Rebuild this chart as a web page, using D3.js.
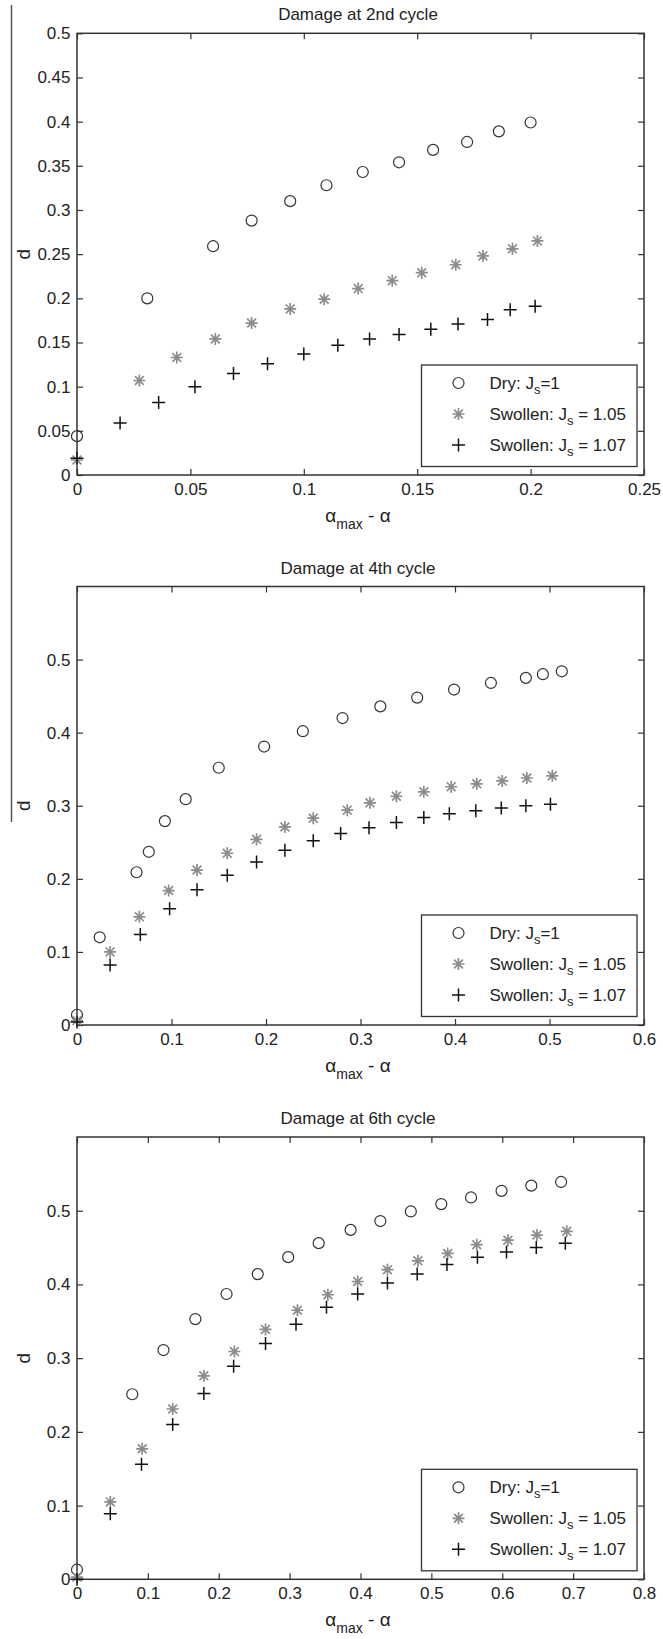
<!DOCTYPE html>
<html>
<head>
<meta charset="UTF-8">
<script src="https://d3js.org/d3.v7.min.js"></script>
<style>
  body { margin: 0; background: #fff; }
  svg { display: block; font-family: "Liberation Sans", Arial, sans-serif; }
  .tick text { font-size: 17px; fill: #222; }
</style>
</head>
<body>
<svg id="chart" width="663" height="1639"></svg>
<script>
// ---- data: [alpha_max - alpha, d] ----
const cycle2Dry = [[0,0.044],[0.031,0.200],[0.060,0.259],[0.077,0.288],[0.094,0.310],[0.110,0.328],[0.126,0.343],[0.142,0.354],[0.157,0.368],[0.172,0.377],[0.186,0.389],[0.200,0.399]];
const cycle2Sw105 = [[0,0.017],[0.0275,0.107],[0.044,0.133],[0.061,0.154],[0.077,0.172],[0.094,0.188],[0.109,0.199],[0.124,0.211],[0.139,0.220],[0.152,0.229],[0.167,0.238],[0.179,0.248],[0.192,0.256],[0.203,0.265]];
const cycle2Sw107 = [[0,0.019],[0.019,0.059],[0.036,0.082],[0.052,0.100],[0.069,0.115],[0.084,0.126],[0.100,0.137],[0.115,0.147],[0.129,0.154],[0.142,0.159],[0.156,0.165],[0.168,0.171],[0.181,0.176],[0.191,0.187],[0.202,0.191]];

const cycle4Dry = [[0,0.014],[0.024,0.120],[0.063,0.209],[0.076,0.237],[0.093,0.279],[0.115,0.309],[0.150,0.352],[0.198,0.381],[0.239,0.402],[0.281,0.420],[0.321,0.436],[0.360,0.448],[0.399,0.459],[0.438,0.468],[0.475,0.475],[0.493,0.480],[0.513,0.484]];
const cycle4Sw105 = [[0,0.006],[0.035,0.100],[0.066,0.148],[0.097,0.184],[0.127,0.212],[0.159,0.235],[0.190,0.254],[0.220,0.271],[0.250,0.283],[0.286,0.294],[0.310,0.304],[0.338,0.313],[0.367,0.319],[0.396,0.326],[0.423,0.330],[0.450,0.334],[0.476,0.338],[0.503,0.341]];
const cycle4Sw107 = [[0,0.004],[0.035,0.082],[0.067,0.124],[0.098,0.159],[0.127,0.185],[0.159,0.205],[0.190,0.223],[0.220,0.239],[0.250,0.252],[0.279,0.262],[0.309,0.270],[0.338,0.277],[0.367,0.284],[0.394,0.289],[0.422,0.293],[0.449,0.297],[0.475,0.300],[0.501,0.302]];

const cycle6Dry = [[0,0.013],[0.078,0.251],[0.122,0.311],[0.167,0.353],[0.211,0.387],[0.255,0.414],[0.298,0.437],[0.341,0.456],[0.386,0.474],[0.428,0.486],[0.471,0.499],[0.514,0.509],[0.556,0.518],[0.599,0.527],[0.641,0.534],[0.683,0.539]];
const cycle6Sw105 = [[0,0.003],[0.047,0.105],[0.092,0.177],[0.135,0.231],[0.179,0.276],[0.222,0.309],[0.266,0.339],[0.311,0.365],[0.354,0.386],[0.396,0.404],[0.438,0.420],[0.481,0.432],[0.523,0.442],[0.564,0.454],[0.608,0.460],[0.649,0.467],[0.691,0.472]];
const cycle6Sw107 = [[0,0],[0.047,0.089],[0.091,0.156],[0.135,0.210],[0.179,0.252],[0.221,0.289],[0.266,0.320],[0.309,0.346],[0.352,0.369],[0.396,0.387],[0.438,0.402],[0.480,0.414],[0.522,0.427],[0.565,0.437],[0.606,0.444],[0.648,0.450],[0.689,0.456]];

const titles = ["Damage at 2nd cycle", "Damage at 4th cycle", "Damage at 6th cycle"];
const xTicks2 = [0, 0.05, 0.1, 0.15, 0.2, 0.25];
const yTicks2 = [0, 0.05, 0.1, 0.15, 0.2, 0.25, 0.3, 0.35, 0.4, 0.45, 0.5];
const xTicks4 = [0, 0.1, 0.2, 0.3, 0.4, 0.5, 0.6];
const xTicks6 = [0, 0.1, 0.2, 0.3, 0.4, 0.5, 0.6, 0.7, 0.8];
const yTicks46 = [0, 0.1, 0.2, 0.3, 0.4, 0.5];
const legendLabels = [["Dry: J", "s", "=1"], ["Swollen: J", "s", " = 1.05"], ["Swollen: J", "s", " = 1.07"]];

const svg = d3.select("#chart");
const left = 77, right = 644;
const ink = "#333";

// stray vertical rule at the left edge of the scan
svg.append("line").attr("x1", 11.5).attr("x2", 11.5).attr("y1", 5).attr("y2", 822)
  .attr("stroke", "#555").attr("stroke-width", 1.5);

const panels = [
  { title: titles[0], top: 33.3, bottom: 475, xMax: 0.25, yMax: 0.5, xTicks: xTicks2, yTicks: yTicks2,
    series: [cycle2Dry, cycle2Sw105, cycle2Sw107] },
  { title: titles[1], top: 586.5, bottom: 1025, xMax: 0.6, yMax: 0.6, xTicks: xTicks4, yTicks: yTicks46,
    series: [cycle4Dry, cycle4Sw105, cycle4Sw107] },
  { title: titles[2], top: 1137, bottom: 1579.3, xMax: 0.8, yMax: 0.6, xTicks: xTicks6, yTicks: yTicks46,
    series: [cycle6Dry, cycle6Sw105, cycle6Sw107] }
];

function marker(g, kind, cx, cy) {
  if (kind === 0) {
    g.append("circle").attr("cx", cx).attr("cy", cy).attr("r", 5.5)
      .attr("fill", "none").attr("stroke", ink).attr("stroke-width", 1.2);
  } else if (kind === 1) {
    const s = 6, d = 4.4;
    g.append("path")
      .attr("d", `M${cx - s},${cy}H${cx + s}M${cx},${cy - s}V${cy + s}M${cx - d},${cy - d}L${cx + d},${cy + d}M${cx - d},${cy + d}L${cx + d},${cy - d}`)
      .attr("stroke", "#8c8c8c").attr("stroke-width", 1.7).attr("fill", "none");
  } else {
    const s = 6.5;
    g.append("path")
      .attr("d", `M${cx - s},${cy}H${cx + s}M${cx},${cy - s}V${cy + s}`)
      .attr("stroke", "#111").attr("stroke-width", 1.5).attr("fill", "none");
  }
}

const fmt = v => String(+v.toFixed(2));

panels.forEach(p => {
  const x = d3.scaleLinear().domain([0, p.xMax]).range([left, right]);
  const y = d3.scaleLinear().domain([0, p.yMax]).range([p.bottom, p.top]);
  const g = svg.append("g");

  // axes with inward ticks on all four sides
  const ax = [
    [d3.axisBottom(x).tickFormat(fmt).tickPadding(8), `translate(0,${p.bottom})`, p.xTicks],
    [d3.axisTop(x).tickFormat(""), `translate(0,${p.top})`, p.xTicks],
    [d3.axisLeft(y).tickFormat(fmt).tickPadding(6.5), `translate(${left},0)`, p.yTicks],
    [d3.axisRight(y).tickFormat(""), `translate(${right},0)`, p.yTicks]
  ];
  ax.forEach(([a, tr, tv]) => {
    const ag = g.append("g").attr("transform", tr)
      .call(a.tickValues(tv).tickSizeInner(-6).tickSizeOuter(0));
    ag.select(".domain").remove();
    ag.selectAll(".tick line").attr("stroke", ink).attr("stroke-width", 1.2);
    ag.selectAll(".tick text").attr("font-family", null);
  });

  g.append("rect").attr("x", left).attr("y", p.top)
    .attr("width", right - left).attr("height", p.bottom - p.top)
    .attr("fill", "none").attr("stroke", ink).attr("stroke-width", 1.5);

  p.series.forEach((s, k) => s.forEach(([a, b]) => marker(g, k, x(a), y(b))));

  // title
  g.append("text").attr("x", 358).attr("y", p.top - 13)
    .attr("text-anchor", "middle").style("font-size", "17px").attr("fill", "#222")
    .text(p.title);

  // y label
  g.append("text").attr("transform", `translate(30,${(p.top + p.bottom) / 2}) rotate(-90)`)
    .attr("text-anchor", "middle").style("font-size", "19px").attr("fill", "#222").text("d");

  // x label
  const xl = g.append("text").attr("x", 358).attr("y", p.bottom + 47)
    .attr("text-anchor", "middle").style("font-size", "19px").attr("fill", "#222");
  xl.append("tspan").text("α");
  xl.append("tspan").attr("dy", 7).style("font-size", "14px").text("max");
  xl.append("tspan").attr("dy", -7).text(" - α");

  // legend
  const lx = 421.5, ly = p.bottom - 110;
  const lg = g.append("g");
  lg.append("rect").attr("x", lx).attr("y", ly).attr("width", 215.5).attr("height", 101.5)
    .attr("fill", "#fff").attr("stroke", ink).attr("stroke-width", 1.3);
  legendLabels.forEach((lab, k) => {
    const ry = ly + 18 + k * 31;
    marker(lg, k, lx + 37, ry);
    const t = lg.append("text").attr("x", lx + 68).attr("y", ry + 6)
      .style("font-size", "17px").attr("fill", "#222");
    t.append("tspan").text(lab[0]);
    t.append("tspan").attr("dy", 5).style("font-size", "13px").text(lab[1]);
    t.append("tspan").attr("dy", -5).text(lab[2]);
  });
});
</script>
</body>
</html>
